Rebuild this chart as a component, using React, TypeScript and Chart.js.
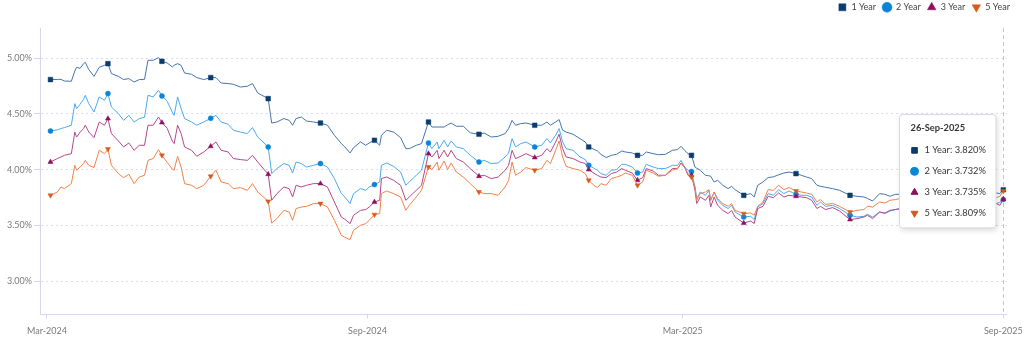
import React, { useEffect, useRef } from 'react';
import { Chart, registerables, Tooltip } from 'chart.js';

Chart.register(...registerables);

// ---------------- data ----------------
// day offsets from 26-Mar-2024
const dayOffsets = [
  2, 6, 8, 10, 14, 16, 17, 19, 21, 22,
  24, 27, 30, 33, 35, 37, 41, 44, 47, 50,
  53, 56, 58, 61, 64, 66, 69, 72, 73, 75,
  77, 79, 83, 86, 90, 94, 97, 100, 104, 107,
  111, 115, 118, 121, 127, 129, 132, 136, 139, 141,
  143, 146, 149, 153, 157, 161, 165, 169, 171, 174,
  176, 180, 183, 185, 188, 191, 192, 195, 199, 203,
  206, 208, 212, 215, 219, 221, 224, 225, 228, 230,
  232, 235, 239, 243, 248, 251, 255, 259, 263, 265,
  267, 269, 272, 275, 280, 284, 287, 289, 292, 294,
  296, 298, 302, 306, 309, 311, 314, 316, 318, 321,
  324, 327, 330, 332, 336, 339, 342, 344, 348, 351,
  355, 359, 362, 364, 366, 368, 370, 372, 373, 375,
  378, 380, 381, 383, 385, 388, 391, 393, 395, 400,
  404, 406, 408, 411, 414, 417, 420, 423, 426, 430,
  433, 436, 439, 442, 444, 447, 451, 455, 461, 465,
  469, 471, 474, 478, 481, 484, 487, 490, 492, 500,
  510, 521, 530, 540, 545, 547, 549,
];

const oneYear = [
  4.809, 4.810, 4.811, 4.796, 4.794, 4.886, 4.919, 4.910, 4.952, 4.964,
  4.899, 4.838, 4.919, 4.937, 4.952, 4.863, 4.838, 4.809, 4.818, 4.787,
  4.809, 4.811, 4.982, 4.982, 5.006, 4.973, 4.958, 4.922, 4.937, 4.952,
  4.937, 4.868, 4.856, 4.827, 4.809, 4.827, 4.827, 4.778, 4.773, 4.767,
  4.742, 4.749, 4.773, 4.688, 4.638, 4.419, 4.428, 4.459, 4.443, 4.399,
  4.459, 4.473, 4.437, 4.428, 4.419, 4.399, 4.309, 4.234, 4.204, 4.150,
  4.198, 4.249, 4.219, 4.240, 4.264, 4.219, 4.309, 4.354, 4.338, 4.288,
  4.189, 4.189, 4.219, 4.234, 4.428, 4.383, 4.383, 4.383, 4.383, 4.403,
  4.419, 4.390, 4.390, 4.331, 4.318, 4.329, 4.293, 4.300, 4.324, 4.369,
  4.443, 4.399, 4.414, 4.419, 4.399, 4.399, 4.428, 4.399, 4.428, 4.450,
  4.354, 4.338, 4.318, 4.279, 4.249, 4.204, 4.183, 4.168, 4.138, 4.109,
  4.129, 4.138, 4.168, 4.159, 4.150, 4.129, 4.129, 4.159, 4.144, 4.134,
  4.138, 4.174, 4.180, 4.210, 4.174, 4.144, 4.129, 4.024, 4.013, 3.995,
  3.950, 3.945, 3.941, 3.890, 3.905, 3.860, 3.830, 3.851, 3.821, 3.770,
  3.785, 3.755, 3.860, 3.890, 3.929, 3.936, 3.954, 3.970, 3.979, 3.965,
  3.950, 3.934, 3.920, 3.860, 3.851, 3.842, 3.830, 3.815, 3.770, 3.761,
  3.755, 3.741, 3.719, 3.785, 3.779, 3.761, 3.779, 3.779, 3.770, 3.788,
  3.779, 3.788, 3.779, 3.788, 3.791, 3.785, 3.820,
];

const twoYear = [
  4.347, 4.358, 4.369, 4.378, 4.399, 4.593, 4.548, 4.587, 4.632, 4.668,
  4.593, 4.518, 4.653, 4.623, 4.683, 4.563, 4.504, 4.443, 4.488, 4.428,
  4.459, 4.470, 4.668, 4.653, 4.713, 4.662, 4.614, 4.515, 4.488, 4.653,
  4.548, 4.459, 4.428, 4.399, 4.428, 4.461, 4.488, 4.428, 4.408, 4.354,
  4.338, 4.324, 4.378, 4.293, 4.204, 3.965, 4.010, 4.055, 4.039, 3.970,
  4.069, 4.055, 4.024, 4.039, 4.055, 4.024, 3.920, 3.785, 3.755, 3.696,
  3.785, 3.830, 3.815, 3.845, 3.866, 3.890, 4.039, 4.060, 4.030, 3.979,
  3.860, 3.890, 3.950, 3.995, 4.240, 4.189, 4.249, 4.189, 4.264, 4.204,
  4.258, 4.204, 4.189, 4.129, 4.069, 4.084, 4.055, 4.060, 4.114, 4.150,
  4.279, 4.204, 4.234, 4.249, 4.204, 4.219, 4.279, 4.240, 4.309, 4.369,
  4.249, 4.189, 4.174, 4.114, 4.091, 4.039, 4.013, 3.995, 3.965, 3.950,
  3.995, 4.001, 4.048, 4.048, 4.024, 3.970, 3.979, 4.048, 4.024, 4.010,
  4.010, 4.039, 4.039, 4.084, 4.024, 3.995, 3.983, 3.845, 3.741, 3.800,
  3.770, 3.815, 3.725, 3.800, 3.725, 3.680, 3.651, 3.680, 3.620, 3.575,
  3.582, 3.552, 3.665, 3.696, 3.785, 3.770, 3.821, 3.785, 3.809, 3.779,
  3.770, 3.770, 3.755, 3.680, 3.710, 3.671, 3.680, 3.651, 3.591, 3.575,
  3.582, 3.600, 3.575, 3.620, 3.606, 3.629, 3.642, 3.651, 3.635, 3.662,
  3.671, 3.680, 3.680, 3.689, 3.696, 3.707, 3.732,
];

const threeYear = [
  4.069, 4.100, 4.114, 4.129, 4.144, 4.338, 4.293, 4.336, 4.369, 4.399,
  4.338, 4.288, 4.428, 4.399, 4.459, 4.324, 4.258, 4.204, 4.240, 4.174,
  4.219, 4.219, 4.399, 4.399, 4.473, 4.423, 4.372, 4.255, 4.234, 4.399,
  4.324, 4.204, 4.174, 4.120, 4.159, 4.210, 4.249, 4.174, 4.159, 4.100,
  4.091, 4.084, 4.129, 4.069, 3.959, 3.725, 3.785, 3.845, 3.830, 3.755,
  3.860, 3.845, 3.860, 3.875, 3.875, 3.845, 3.710, 3.575, 3.555, 3.516,
  3.591, 3.635, 3.642, 3.665, 3.710, 3.725, 3.920, 3.934, 3.905, 3.860,
  3.725, 3.755, 3.815, 3.860, 4.144, 4.114, 4.174, 4.100, 4.174, 4.114,
  4.174, 4.100, 4.069, 4.010, 3.941, 3.950, 3.920, 3.934, 3.995, 4.039,
  4.174, 4.100, 4.120, 4.144, 4.109, 4.129, 4.189, 4.159, 4.249, 4.318,
  4.189, 4.114, 4.100, 4.069, 4.055, 4.001, 3.968, 3.950, 3.934, 3.929,
  3.965, 3.979, 4.010, 3.995, 3.970, 3.905, 3.929, 4.010, 3.988, 3.950,
  3.950, 4.010, 4.010, 4.060, 4.024, 3.950, 3.950, 3.815, 3.696, 3.755,
  3.725, 3.770, 3.665, 3.755, 3.680, 3.635, 3.606, 3.635, 3.575, 3.521,
  3.539, 3.516, 3.651, 3.671, 3.761, 3.749, 3.791, 3.755, 3.770, 3.761,
  3.755, 3.749, 3.725, 3.651, 3.671, 3.642, 3.660, 3.629, 3.552, 3.561,
  3.575, 3.591, 3.561, 3.620, 3.611, 3.635, 3.642, 3.651, 3.635, 3.662,
  3.671, 3.680, 3.680, 3.689, 3.696, 3.680, 3.735,
];

const fiveYear = [
  3.770, 3.800, 3.845, 3.830, 3.875, 4.039, 3.995, 4.024, 4.055, 4.084,
  4.039, 4.019, 4.174, 4.144, 4.186, 4.039, 3.965, 3.929, 3.959, 3.875,
  3.934, 3.950, 4.084, 4.100, 4.180, 4.129, 4.066, 4.004, 3.995, 4.120,
  4.024, 3.875, 3.860, 3.830, 3.860, 3.941, 3.995, 3.890, 3.875, 3.830,
  3.839, 3.815, 3.875, 3.800, 3.716, 3.521, 3.561, 3.635, 3.620, 3.546,
  3.651, 3.665, 3.671, 3.696, 3.696, 3.665, 3.546, 3.411, 3.393, 3.372,
  3.456, 3.501, 3.516, 3.546, 3.597, 3.606, 3.785, 3.809, 3.785, 3.755,
  3.635, 3.680, 3.755, 3.815, 4.024, 4.001, 4.069, 3.995, 4.078, 4.001,
  4.060, 3.979, 3.934, 3.875, 3.800, 3.785, 3.785, 3.770, 3.845, 3.905,
  4.069, 3.950, 3.979, 4.019, 3.995, 4.010, 4.084, 4.055, 4.174, 4.258,
  4.114, 4.030, 4.010, 3.995, 3.965, 3.905, 3.860, 3.839, 3.875, 3.860,
  3.920, 3.934, 3.950, 3.970, 3.950, 3.860, 3.890, 3.995, 3.970, 3.941,
  3.950, 3.995, 4.010, 4.055, 4.024, 3.965, 3.934, 3.845, 3.725, 3.785,
  3.800, 3.821, 3.725, 3.800, 3.741, 3.696, 3.671, 3.696, 3.635, 3.606,
  3.611, 3.591, 3.671, 3.710, 3.821, 3.815, 3.860, 3.821, 3.839, 3.809,
  3.800, 3.791, 3.779, 3.710, 3.732, 3.689, 3.696, 3.671, 3.620, 3.635,
  3.642, 3.671, 3.665, 3.710, 3.701, 3.725, 3.732, 3.741, 3.734, 3.761,
  3.752, 3.761, 3.752, 3.752, 3.749, 3.761, 3.809,
];

const seriesLabels = ['1 Year', '2 Year', '3 Year', '5 Year'];
const xTickDays = [0, 184, 365, 549];
const xTickLabels = ['Mar-2024', 'Sep-2024', 'Mar-2025', 'Sep-2025'];
const yTickValues = [3.0, 3.5, 4.0, 4.5, 5.0];

// ---------------- styles ----------------
const lineColors = ['#4475ae', '#4ba9f0', '#b4478b', '#f0824a'];
const markerColors = ['#0c3c6c', '#0a84d6', '#8c0f60', '#d65a1c'];
const markerStyles = ['rect', 'circle', 'triangle', 'triangle'];
const markerRotations = [0, 0, 0, 180];
const markerRadii = [3.3, 2.5, 2.9, 2.9];

const START_UTC = Date.UTC(2024, 2, 26);
const MONTHS = ['Jan', 'Feb', 'Mar', 'Apr', 'May', 'Jun', 'Jul', 'Aug', 'Sep', 'Oct', 'Nov', 'Dec'];
const dateOf = (d: number) => new Date(START_UTC + d * 86400000);
const fmtDate = (d: number) => {
  const dt = dateOf(d);
  return `${String(dt.getUTCDate()).padStart(2, '0')}-${MONTHS[dt.getUTCMonth()]}-${dt.getUTCFullYear()}`;
};

// month-end markers: last sample of each calendar month
const markerIdx = new Set<number>();
dayOffsets.forEach((d, i) => {
  const next = dayOffsets[i + 1];
  if (next === undefined || dateOf(next).getUTCMonth() !== dateOf(d).getUTCMonth()) markerIdx.add(i);
});

(Tooltip as any).positioners.lastRight = function (items: any[]) {
  if (!items.length) return false;
  const chart = this.chart;
  const el = items[0].element;
  return { x: el.x - 7.4, y: (chart.chartArea.top + chart.chartArea.bottom) / 2 };
};

const crosshairPlugin = {
  id: 'crosshair',
  beforeDatasetsDraw(chart: any) {
    const meta = chart.getDatasetMeta(0);
    const pt = meta.data[meta.data.length - 1];
    if (!pt) return;
    const { top, bottom } = chart.chartArea;
    const ctx = chart.ctx;
    const x = Math.round(pt.x) + 0.5;
    ctx.save();
    ctx.strokeStyle = '#c3c3ee';
    ctx.lineWidth = 1;
    ctx.setLineDash([4, 3]);
    ctx.beginPath();
    ctx.moveTo(x, top);
    ctx.lineTo(x, bottom);
    ctx.stroke();
    ctx.restore();
  },
};

const tooltipShadowPlugin = {
  id: 'tooltipShadow',
  beforeTooltipDraw(chart: any, args: any) {
    const tt = args.tooltip;
    if (!tt || !tt.opacity) return;
    const ctx = chart.ctx;
    ctx.save();
    ctx.shadowColor = 'rgba(0,0,0,0.16)';
    ctx.shadowBlur = 6;
    ctx.shadowOffsetX = 1;
    ctx.shadowOffsetY = 2;
    ctx.fillStyle = '#ffffff';
    ctx.fillRect(tt.x, tt.y, tt.width, tt.height);
    ctx.restore();
  },
};

export default function App() {
  const canvasRef = useRef<HTMLCanvasElement | null>(null);

  useEffect(() => {
    document.body.style.margin = '0';
    const canvas = canvasRef.current;
    if (!canvas) return;
    Chart.defaults.font.family = "Lato, 'Open Sans', sans-serif";

    const seriesValues = [oneYear, twoYear, threeYear, fiveYear];
    const datasets = seriesValues.map((vals, s) => ({
      label: seriesLabels[s],
      data: dayOffsets.map((d, i) => ({ x: d, y: vals[i] })),
      order: seriesValues.length - 1 - s,
      borderColor: lineColors[s],
      backgroundColor: markerColors[s],
      borderWidth: 1,
      tension: 0,
      fill: false,
      pointStyle: markerStyles[s],
      pointRotation: markerRotations[s],
      pointBackgroundColor: markerColors[s],
      pointBorderColor: markerColors[s],
      pointBorderWidth: 0.5,
      pointRadius: (ctx: any) => (markerIdx.has(ctx.dataIndex) ? markerRadii[s] : 0),
      pointHoverRadius: (ctx: any) => (markerIdx.has(ctx.dataIndex) ? markerRadii[s] : 0),
    }));

    const chart = new Chart(canvas, {
      type: 'line',
      data: { datasets } as any,
      plugins: [crosshairPlugin, tooltipShadowPlugin],
      options: {
        responsive: false,
        maintainAspectRatio: false,
        animation: false,
        devicePixelRatio: 1,
        events: [],
        layout: { padding: { top: -3.7, right: 7.5, left: 0, bottom: 0 } },
        scales: {
          x: {
            type: 'linear',
            min: -4,
            max: 551,
            afterBuildTicks: (scale: any) => {
              scale.ticks = xTickDays.map((v) => ({ value: v }));
            },
            afterFit: (scale: any) => {
              scale.height = 22.5;
              scale.paddingLeft = 0;
              scale.paddingRight = 0;
            },
            ticks: {
              autoSkip: false,
              maxRotation: 0,
              padding: 7.5,
              color: '#7a7a7a',
              font: { size: 9 },
              callback: (v: any) => {
                const i = xTickDays.indexOf(Number(v));
                return i >= 0 ? xTickLabels[i] : '';
              },
            },
            grid: { display: true, drawOnChartArea: false, drawTicks: true, tickLength: 4, color: '#d6d6f2' },
            border: { display: true, color: '#d6d6f2', width: 1 },
          },
          y: {
            type: 'linear',
            min: 2.7,
            max: 5.272,
            afterBuildTicks: (scale: any) => {
              scale.ticks = yTickValues.map((v) => ({ value: v }));
            },
            afterFit: (scale: any) => {
              scale.width = 40;
              scale.paddingTop = 0;
              scale.paddingBottom = 0;
            },
            ticks: {
              padding: 2,
              color: '#7a7a7a',
              font: { size: 9 },
              callback: (v: any) => Number(v).toFixed(2) + '%',
            },
            grid: { color: '#dcdcf5', lineWidth: 1, tickLength: 6, tickColor: '#d6d6f2', tickBorderDash: [] },
            border: { display: true, color: '#d6d6f2', width: 1, dash: [2, 3] },
          },
          yPad: {
            type: 'linear',
            position: 'right',
            display: true,
            afterFit: (scale: any) => {
              scale.width = 9.7;
            },
            grid: { display: false, drawTicks: false },
            ticks: { display: false },
            border: { display: false },
          },
        } as any,
        plugins: {
          legend: {
            position: 'top',
            align: 'end',
            labels: {
              usePointStyle: true,
              boxWidth: 9,
              boxHeight: 7,
              padding: 6.5,
              color: '#444',
              font: { size: 9 },
              sort: (a: any, b: any) => a.datasetIndex - b.datasetIndex,
            },
          },
          title: {
            display: true,
            text: '',
            position: 'top',
            weight: 500,
            padding: { top: 0, bottom: 5.2 },
            font: { size: 1, lineHeight: 1 },
          } as any,
          tooltip: {
            enabled: true,
            mode: 'index',
            intersect: false,
            position: 'lastRight' as any,
            xAlign: 'right',
            yAlign: 'center',
            backgroundColor: '#ffffff',
            borderColor: '#dadada',
            borderWidth: 1,
            cornerRadius: 3,
            caretSize: 0,
            caretPadding: 0,
            padding: { top: 7.5, bottom: 9, left: 11, right: 10 },
            titleColor: '#333333',
            titleFont: { size: 9.3, weight: 'bold' },
            titleMarginBottom: 11.5,
            bodyColor: '#333333',
            bodyFont: { size: 9.3 },
            bodySpacing: 9.8,
            usePointStyle: true,
            boxWidth: 8,
            boxHeight: 8,
            boxPadding: 4,
            displayColors: true,
            multiKeyBackground: 'rgba(0,0,0,0)',
            itemSort: (a: any, b: any) => a.datasetIndex - b.datasetIndex,
            callbacks: {
              title: (items: any[]) => (items.length ? fmtDate(dayOffsets[items[0].dataIndex]) : ''),
              label: (item: any) => `${item.dataset.label}: ${Number(item.parsed.y).toFixed(3)}%`,
              labelColor: (item: any) => ({
                borderColor: markerColors[item.datasetIndex],
                backgroundColor: markerColors[item.datasetIndex],
                borderWidth: 0,
              }),
              labelPointStyle: (item: any) => ({
                pointStyle: markerStyles[item.datasetIndex],
                rotation: markerRotations[item.datasetIndex],
              }),
            } as any,
          },
        },
      } as any,
    });

    const last = dayOffsets.length - 1;
    const active = seriesValues.map((_, i) => ({ datasetIndex: i, index: last }));
    chart.tooltip?.setActiveElements(active, { x: 0, y: 0 });
    chart.draw();

    return () => chart.destroy();
  }, []);

  return (
    <div style={{ width: 1024, height: 337 }}>
      <canvas ref={canvasRef} width={1024} height={337} style={{ display: 'block' }} />
    </div>
  );
}
